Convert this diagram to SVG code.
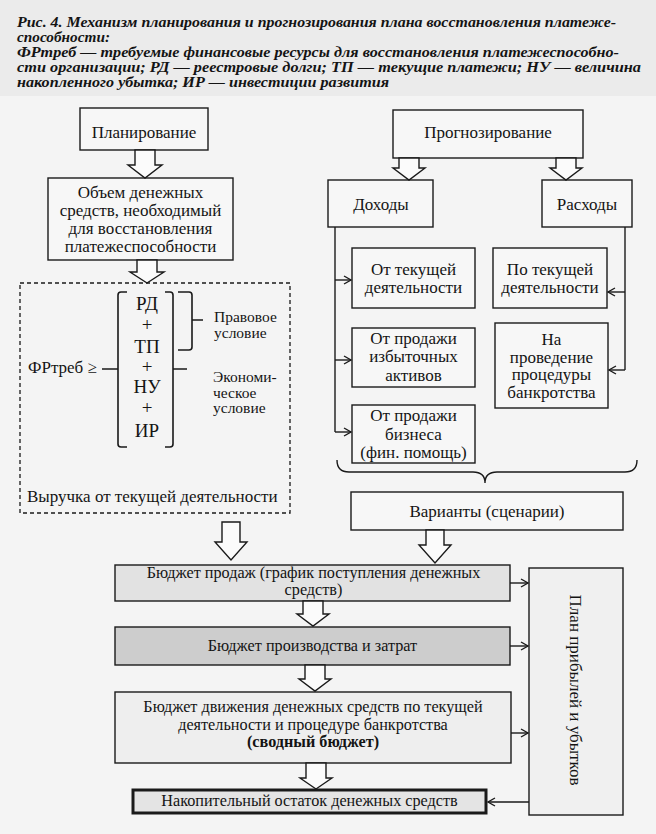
<svg xmlns="http://www.w3.org/2000/svg" width="656" height="834" viewBox="0 0 656 834">
<defs>
<marker id="ah" markerWidth="10" markerHeight="10" refX="8" refY="5" orient="auto" markerUnits="userSpaceOnUse">
<polyline points="1,1 8,5 1,9" fill="none" stroke="#1a1a1a" stroke-width="1.4"/>
</marker>
<style>
.bx{fill:#f7f7f7;stroke:#1a1a1a;stroke-width:1.4}
.t{font-family:"Liberation Serif","Times New Roman",serif;font-size:17px;fill:#141414;text-anchor:middle}
.tb{font-family:"Liberation Serif","Times New Roman",serif;font-size:16.2px;fill:#141414;text-anchor:middle}
.tl{font-family:"Liberation Serif","Times New Roman",serif;font-size:17px;fill:#141414}
.ts{font-family:"Liberation Serif","Times New Roman",serif;font-size:15.5px;fill:#141414}
.h{font-family:"Liberation Serif","Times New Roman",serif;font-size:14.5px;font-weight:bold;font-style:italic;fill:#141414}
.ba{fill:#fbfbfb;stroke:#1a1a1a;stroke-width:1.4;stroke-linejoin:miter}
.ln{fill:none;stroke:#1a1a1a;stroke-width:1.4}
.la{fill:none;stroke:#1a1a1a;stroke-width:1.4;marker-end:url(#ah)}
.br{fill:none;stroke:#1a1a1a;stroke-width:1.6}
.f{font-family:"Liberation Serif","Times New Roman",serif;font-size:19px;fill:#141414;text-anchor:middle}
</style>
</defs>
<rect x="0" y="0" width="656" height="834" fill="#f4f4f4"/>
<rect x="0" y="0" width="656" height="96" fill="#ebebeb"/>

<g id="caption">
<text class="h" x="17" y="27" textLength="599" lengthAdjust="spacingAndGlyphs">Рис. 4. Механизм планирования и прогнозирования плана восстановления платеже-</text>
<text class="h" x="17" y="42" textLength="93" lengthAdjust="spacingAndGlyphs">способности:</text>
<text class="h" x="17" y="57" textLength="602" lengthAdjust="spacingAndGlyphs">ФРтреб — требуемые финансовые ресурсы для восстановления платежеспособно-</text>
<text class="h" x="17" y="72" textLength="624" lengthAdjust="spacingAndGlyphs">сти организации; РД — реестровые долги; ТП — текущие платежи; НУ — величина</text>
<text class="h" x="17" y="87" textLength="372" lengthAdjust="spacingAndGlyphs">накопленного убытка; ИР — инвестиции развития</text>
</g>

<g id="planning">
<rect class="bx" x="80" y="108" width="128" height="42"/>
<text class="t" x="144" y="138">Планирование</text>
</g>

<g id="volume">
<rect class="bx" x="48" y="178" width="185" height="82"/>
<text class="t" x="140.5" y="198">Объем денежных</text>
<text class="t" x="140.5" y="216">средств, необходимый</text>
<text class="t" x="140.5" y="234">для восстановления</text>
<text class="t" x="140.5" y="252">платежеспособности</text>
</g>

<g id="condition">
<rect x="20" y="283" width="270" height="230" fill="none" stroke="#1a1a1a" stroke-width="1.3" stroke-dasharray="4,3"/>
<text class="tl" x="28" y="373">ФРтреб ≥</text>
<path class="br" d="M127,292 H121 Q118,292 118,295 V444 Q118,447 121,447 H127 M118,369 H102"/>
<path class="br" d="M165,292 H170 Q173,292 173,295 V444 Q173,447 170,447 H165 M173,369 H187"/>
<path class="br" d="M178,292 H189 Q192,292 192,295 V347 Q192,350 189,350 H178 M192,320 H203"/>
<text class="f" x="147" y="310">РД</text>
<text class="f" x="147" y="331">+</text>
<text class="f" x="147" y="353">ТП</text>
<text class="f" x="147" y="373">+</text>
<text class="f" x="147" y="393">НУ</text>
<text class="f" x="147" y="414">+</text>
<text class="f" x="147" y="437">ИР</text>
<text class="ts" x="214" y="322">Правовое</text>
<text class="ts" x="214" y="338">условие</text>
<text class="ts" x="213" y="382">Экономи-</text>
<text class="ts" x="213" y="397.5">ческое</text>
<text class="ts" x="213" y="413">условие</text>
<text class="tl" x="27" y="502">Выручка от текущей деятельности</text>
</g>

<g id="forecast">
<rect class="bx" x="393" y="110" width="190" height="48"/>
<text class="t" x="488" y="138">Прогнозирование</text>
</g>

<g id="income">
<rect class="bx" x="328" y="180" width="105" height="47"/>
<text class="t" x="381" y="210">Доходы</text>
</g>

<g id="expense">
<rect class="bx" x="542" y="180" width="90" height="47"/>
<text class="t" x="587" y="210">Расходы</text>
</g>

<g id="inc-current">
<rect class="bx" x="352" y="248" width="123" height="60"/>
<text class="t" x="413.5" y="275">От текущей</text>
<text class="t" x="413.5" y="293">деятельности</text>
</g>

<g id="inc-assets">
<rect class="bx" x="352" y="328" width="123" height="59"/>
<text class="t" x="413.5" y="344">От продажи</text>
<text class="t" x="413.5" y="362">избыточных</text>
<text class="t" x="413.5" y="381">активов</text>
</g>

<g id="inc-business">
<rect class="bx" x="352" y="405" width="123" height="58"/>
<text class="t" x="413.5" y="421">От продажи</text>
<text class="t" x="413.5" y="440">бизнеса</text>
<text class="t" x="413.5" y="458">(фин. помощь)</text>
</g>

<g id="exp-current">
<rect class="bx" x="493" y="248" width="114" height="60"/>
<text class="t" x="550" y="275">По текущей</text>
<text class="t" x="550" y="293">деятельности</text>
</g>

<g id="exp-bankruptcy">
<rect class="bx" x="495" y="323" width="113" height="85"/>
<text class="t" x="551.5" y="345">На</text>
<text class="t" x="551.5" y="362.5">проведение</text>
<text class="t" x="551.5" y="380">процедуры</text>
<text class="t" x="551.5" y="397.5">банкротства</text>
</g>

<g id="variants">
<rect class="bx" x="351" y="492" width="272" height="38"/>
<text class="t" x="487" y="517">Варианты (сценарии)</text>
</g>

<g id="sales-budget">
<rect class="bx" x="115" y="565" width="395" height="36" style="fill:#e2e2e2"/>
<text class="tb" x="313.5" y="578">Бюджет продаж (график поступления денежных</text>
<text class="tb" x="313.5" y="595">средств)</text>
</g>

<g id="production-budget">
<rect class="bx" x="115" y="627" width="395" height="38" style="fill:#cdcdcd"/>
<text class="tb" x="312.5" y="651">Бюджет производства и затрат</text>
</g>

<g id="cash-budget">
<rect class="bx" x="115" y="692" width="396" height="71" style="fill:#eeeeee"/>
<text class="tb" x="313" y="712">Бюджет движения денежных средств по текущей</text>
<text class="tb" x="313" y="729.5">деятельности и процедуре банкротства</text>
<text class="tb" x="313" y="747" font-weight="bold">(сводный бюджет)</text>
</g>

<g id="cash-balance">
<rect x="133" y="790" width="353" height="23" fill="#e4e4e4" stroke="#1a1a1a" stroke-width="3"/>
<text class="tb" x="309.5" y="806">Накопительный остаток денежных средств</text>
</g>

<g id="pl-plan">
<rect class="bx" x="529" y="568" width="94" height="247" style="fill:#f0f0f0"/>
<text class="t" transform="translate(576,690) rotate(90)" x="0" y="6">План прибылей и убытков</text>
</g>

<g id="connectors">
<path class="ba" d="M135,150 H155 V165 H162 L145,178 L128,165 H135 Z"/>
<path class="ba" d="M137,260 H157 V272 H164 L147,283 L130,272 H137 Z"/>
<path class="ba" d="M399,158 H419 V168 H425 L409,180 L393,168 H399 Z"/>
<path class="ba" d="M556,158 H576 V168 H582 L566,180 L550,168 H556 Z"/>
<path class="ba" d="M222,522 H240 V542 H247 L231,560 L215,542 H222 Z"/>
<path class="ba" d="M426,530 H444 V545 H451 L435,563 L419,545 H426 Z"/>
<path class="ba" d="M303,601 H323 V614 H329 L313,626 L297,614 H303 Z"/>
<path class="ba" d="M305,665 H325 V679 H331 L315,691 L299,679 H305 Z"/>
<path class="ba" d="M306,763 H326 V778 H332 L316,789 L300,778 H306 Z"/>

<path class="ln" d="M335,227 V432"/>
<path class="la" d="M335,280 H351"/>
<path class="la" d="M335,360 H351"/>
<path class="la" d="M335,432 H351"/>
<path class="ln" d="M625,227 V370"/>
<path class="la" d="M625,292 H608"/>
<path class="la" d="M625,370 H609"/>
<path class="ln" d="M337,460 Q337,472 349,472 H473 Q485,472 485,483 Q485,472 497,472 H625 Q637,472 637,460"/>
<path class="la" d="M510,583 H528"/>
<path class="la" d="M510,646 H528"/>
<path class="la" d="M511,733 H528"/>
<path class="la" d="M529,802 H488"/>
</g>
</svg>
